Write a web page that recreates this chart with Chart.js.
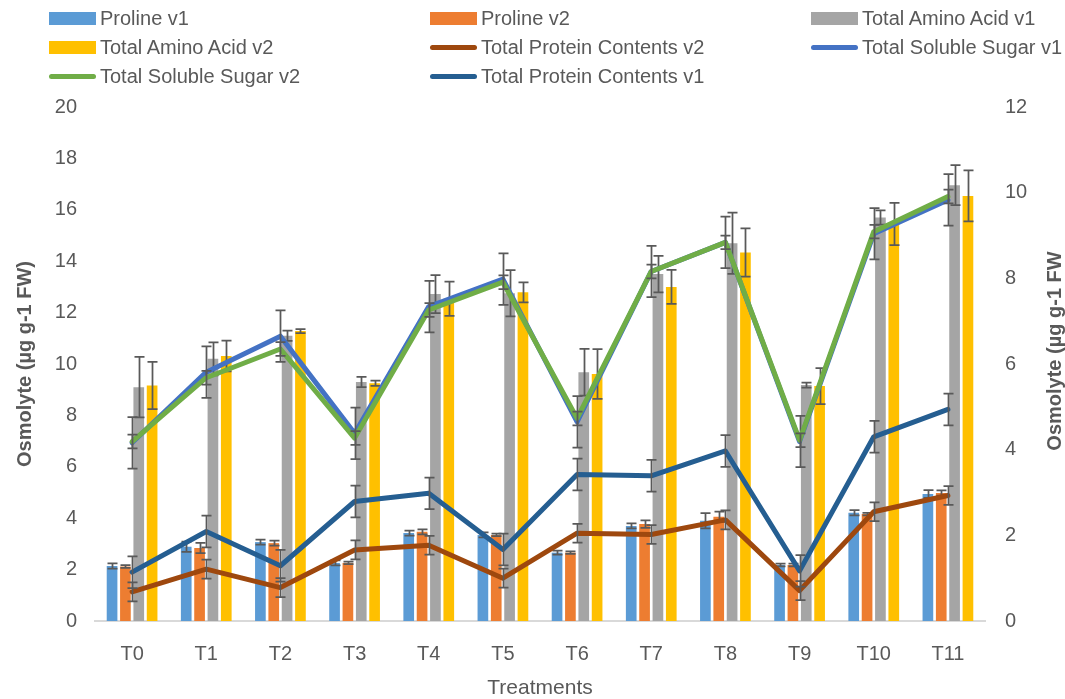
<!DOCTYPE html>
<html>
<head>
<meta charset="utf-8">
<script src="https://cdn.jsdelivr.net/npm/chart.js@4.4.1/dist/chart.umd.min.js"></script>
<style>
  html, body { margin: 0; padding: 0; background: #ffffff; }
  #wrap { position: relative; width: 1065px; height: 699px; overflow: hidden; }
  #chart { position: absolute; left: 0; top: 0; }
  #legend { position: absolute; left: 0; top: 0; width: 1065px; height: 95px;
            font-family: "Liberation Sans Narrow", "Liberation Sans", sans-serif; font-size: 20px; color: #595959; }
  .item { position: absolute; height: 29px; display: flex; align-items: center; white-space: nowrap; }
  .sw { display: inline-block; width: 47px; margin-right: 4px; }
</style>
</head>
<body>
<div id="wrap">
  <canvas id="chart" width="1065" height="699"></canvas>
  <div id="legend"></div>
</div>
<script>
// Treatments on the category axis
const categories = ['T0', 'T1', 'T2', 'T3', 'T4', 'T5', 'T6', 'T7', 'T8', 'T9', 'T10', 'T11'];

// Bars, left axis (µg g-1 FW)
const prolineV1    = [2.14, 2.89, 3.07, 2.26, 3.42, 3.35, 2.66, 3.70, 3.90, 2.18, 4.21, 4.94];
const prolineV1Err = [0.10, 0.20, 0.10, 0.10, 0.10, 0.10, 0.08, 0.10, 0.30, 0.05, 0.10, 0.15];
const prolineV2    = [2.12, 2.84, 3.03, 2.26, 3.47, 3.35, 2.66, 3.77, 4.06, 2.18, 4.16, 4.98];
const prolineV2Err = [0.05, 0.20, 0.10, 0.05, 0.10, 0.05, 0.05, 0.15, 0.20, 0.05, 0.05, 0.10];
const aminoV1      = [9.10, 10.20, 11.10, 9.30, 12.72, 12.75, 9.68, 13.50, 14.70, 9.18, 15.70, 16.96];
const aminoV1Err   = [1.18, 0.64, 0.20, 0.20, 0.74, 0.90, 0.91, 0.71, 1.19, 0.10, 0.28, 0.78];
const aminoV2      = [9.16, 10.31, 11.28, 9.25, 12.54, 12.79, 9.61, 13.00, 14.34, 9.14, 15.45, 16.54];
const aminoV2Err   = [0.92, 0.60, 0.08, 0.10, 0.67, 0.39, 0.97, 0.66, 0.94, 0.70, 0.82, 0.99];

// Lines, right axis
const proteinV2    = [0.68, 1.21, 0.78, 1.66, 1.77, 1.00, 2.05, 2.02, 2.36, 0.71, 2.55, 2.93];
const proteinV2Err = [0.22, 0.22, 0.22, 0.22, 0.22, 0.22, 0.22, 0.22, 0.22, 0.22, 0.22, 0.22];
const sugarV1      = [4.16, 5.81, 6.65, 4.38, 7.34, 7.98, 4.65, 8.16, 8.84, 4.19, 9.04, 9.83];
const sugarV1Err   = [0.60, 0.60, 0.60, 0.60, 0.60, 0.60, 0.60, 0.60, 0.60, 0.60, 0.60, 0.60];
const sugarV2      = [4.19, 5.68, 6.35, 4.27, 7.26, 7.91, 4.73, 8.16, 8.84, 4.22, 9.09, 9.91];
const sugarV2Err   = [0.16, 0.16, 0.16, 0.16, 0.16, 0.16, 0.16, 0.16, 0.16, 0.16, 0.16, 0.16];
const proteinV1    = [1.14, 2.09, 1.29, 2.79, 2.98, 1.67, 3.42, 3.39, 3.97, 1.17, 4.30, 4.94];
const proteinV1Err = [0.37, 0.37, 0.37, 0.37, 0.37, 0.37, 0.37, 0.37, 0.37, 0.37, 0.37, 0.37];

const FONT = '"Liberation Sans Narrow", "Liberation Sans", sans-serif';
const TEXT = '#595959';
const RIGHT_TITLE = 'Osmolyte (µg g-1 FW';

function barSet(label, data, errors, color, order) {
  return { type: 'bar', label, data, errors, backgroundColor: color, yAxisID: 'y',
           order, categoryPercentage: 0.72, barPercentage: 0.8 };
}
function lineSet(label, data, errors, color, order) {
  return { type: 'line', label, data, errors, borderColor: color, backgroundColor: color,
           yAxisID: 'y1', order, borderWidth: 5, pointRadius: 0, tension: 0,
           borderJoinStyle: 'round', borderCapStyle: 'round' };
}

const datasets = [
  barSet('Proline v1', prolineV1, prolineV1Err, '#5B9BD5', 5),
  barSet('Proline v2', prolineV2, prolineV2Err, '#ED7D31', 6),
  barSet('Total Amino Acid v1', aminoV1, aminoV1Err, '#A5A5A5', 7),
  barSet('Total Amino Acid v2', aminoV2, aminoV2Err, '#FFC000', 8),
  lineSet('Total Protein Contents v2', proteinV2, proteinV2Err, '#9E480E', 4),
  lineSet('Total Soluble Sugar v1', sugarV1, sugarV1Err, '#4472C4', 3),
  lineSet('Total Soluble Sugar v2', sugarV2, sugarV2Err, '#70AD47', 2),
  lineSet('Total Protein Contents v1', proteinV1, proteinV1Err, '#255E91', 1)
];

// Whisker error bars drawn right after each dataset
const errorBars = {
  id: 'errorBars',
  afterDatasetDraw(chart, args) {
    const ds = chart.data.datasets[args.index];
    if (!ds.errors) return;
    const scale = chart.scales[ds.yAxisID];
    const ctx = chart.ctx;
    ctx.save();
    ctx.strokeStyle = '#595959';
    ctx.lineWidth = 1.75;
    args.meta.data.forEach((el, i) => {
      const v = ds.data[i], e = ds.errors[i];
      const x = Math.round(el.x) + 0.5;
      const yt = scale.getPixelForValue(v + e);
      const yb = scale.getPixelForValue(v - e);
      ctx.beginPath();
      ctx.moveTo(x, yt); ctx.lineTo(x, yb);
      ctx.moveTo(x - 5, yt); ctx.lineTo(x + 5, yt);
      ctx.moveTo(x - 5, yb); ctx.lineTo(x + 5, yb);
      ctx.stroke();
    });
    ctx.restore();
  }
};

// Secondary axis title, reading bottom to top like the primary one
const rightTitle = {
  id: 'rightTitle',
  afterDraw(chart) {
    const ctx = chart.ctx;
    const s = chart.scales.y1;
    ctx.save();
    ctx.translate(1055, (s.top + s.bottom) / 2 - 13);
    ctx.rotate(-Math.PI / 2);
    ctx.fillStyle = TEXT;
    ctx.font = 'bold 20px ' + FONT;
    ctx.textAlign = 'center';
    ctx.textBaseline = 'middle';
    ctx.fillText(RIGHT_TITLE, 0, 0);
    ctx.restore();
  }
};

const chart = new Chart(document.getElementById('chart'), {
  data: { labels: categories, datasets },
  plugins: [errorBars, rightTitle],
  options: {
    responsive: false,
    animation: false,
    layout: { padding: { top: 107, right: 0, bottom: 0, left: 0 } },
    plugins: { legend: { display: false }, tooltip: { enabled: false } },
    scales: {
      x: {
        grid: { display: false },
        border: { display: true, color: '#D9D9D9', width: 2 },
        ticks: { color: TEXT, font: { family: FONT, size: 20 }, padding: 13, maxRotation: 0 },
        title: { display: true, text: 'Treatments', color: TEXT, font: { family: FONT, size: 21 },
                 padding: { top: 0, bottom: -2 } },
        afterFit(s) { s.height = 78; }
      },
      y: {
        position: 'left', min: 0, max: 20,
        grid: { display: false }, border: { display: false },
        ticks: { stepSize: 2, color: TEXT, font: { family: FONT, size: 20 }, padding: 10 },
        title: { display: true, text: 'Osmolyte (µg g-1 FW)', color: TEXT,
                 font: { family: FONT, size: 20, weight: 'bold' }, padding: { top: 13, bottom: 0 } },
        afterFit(s) { s.width = 95; }
      },
      y1: {
        position: 'right', min: 0, max: 12,
        grid: { display: false }, border: { display: false },
        ticks: { stepSize: 2, color: TEXT, font: { family: FONT, size: 20 }, padding: 12 },
        afterFit(s) { s.width = 80; }
      }
    }
  }
});

// Legend in a three-column grid, built from the datasets
const legend = document.getElementById('legend');
const colX = [49, 430, 811];
const rowY = [4, 33, 62];
datasets.forEach((ds, i) => {
  const item = document.createElement('div');
  item.className = 'item';
  item.style.left = colX[i % 3] + 'px';
  item.style.top = rowY[Math.floor(i / 3)] + 'px';
  const sw = document.createElement('span');
  sw.className = 'sw';
  if (ds.type === 'bar') {
    sw.style.height = '13px';
    sw.style.background = ds.backgroundColor;
  } else {
    sw.style.height = '5px';
    sw.style.borderRadius = '3px';
    sw.style.background = ds.borderColor;
  }
  item.appendChild(sw);
  item.appendChild(document.createTextNode(ds.label));
  legend.appendChild(item);
});
</script>
</body>
</html>
